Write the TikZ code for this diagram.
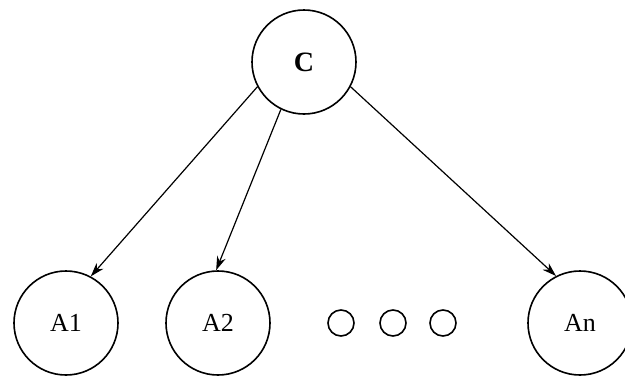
\documentclass[tikz,border=0pt]{standalone}
\usepackage{fontspec}
\setmainfont{Liberation Serif}
\usetikzlibrary{arrows.meta}
\begin{document}
\begin{tikzpicture}[x=1pt,y=-1pt,
  big/.style={draw,circle,line width=1.6pt,minimum size=104pt,inner sep=0pt,font=\fontsize{26}{26}\selectfont},
  dot/.style={draw,circle,line width=1.6pt,minimum size=26pt,inner sep=0pt},
  arr/.style={line width=1.2pt,-{Stealth[length=14pt,width=9pt]}}]
\useasboundingbox (0,0) rectangle (625,376);
\node[big,font=\fontsize{28}{28}\selectfont\bfseries] (C) at (304,62) {C};
\node[big] (A1) at (66,323) {A1};
\node[big] (A2) at (218,323) {A2};
\node[big] (An) at (580,323) {An};
\node[dot] (d1) at (341,323) {};
\node[dot] (d2) at (393,323) {};
\node[dot] (d3) at (443,323) {};
\draw[arr] (C.208) -- (A1.62);
\draw[arr] (C.244) -- (A2.92);
\draw[arr] (C.332) -- (An.117);
\end{tikzpicture}
\end{document}
